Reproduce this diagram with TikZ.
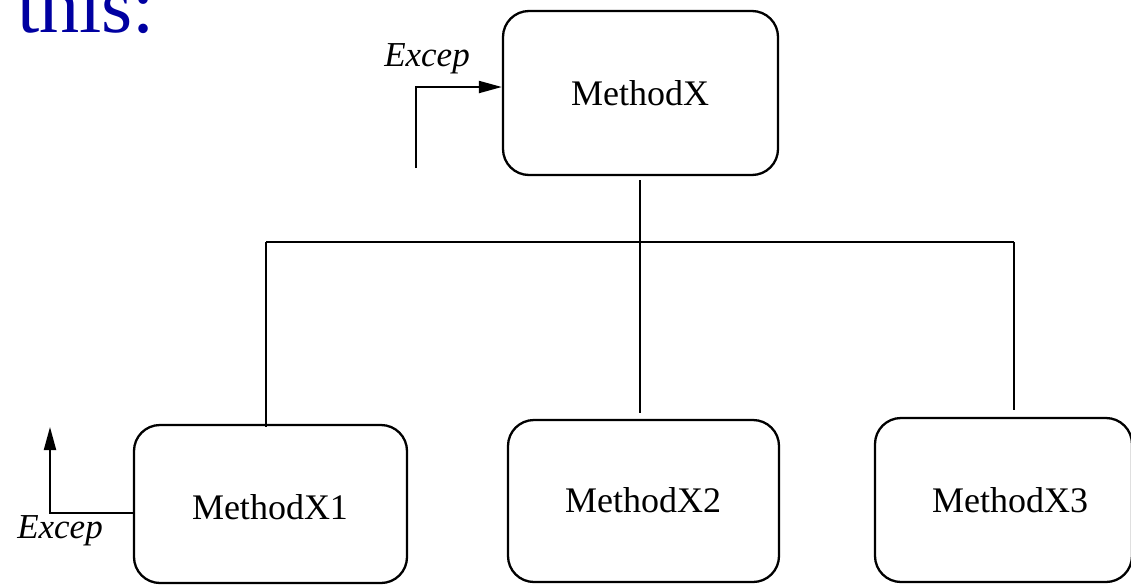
\documentclass[tikz,border=0pt]{standalone}
\usepackage{fontspec}
\setmainfont{Liberation Serif}
\usetikzlibrary{arrows.meta}
\definecolor{titleblue}{rgb}{0,0,0.63}
\tikzset{
  method/.style={draw, line width=2.3pt, rounded corners=26pt, inner sep=0pt},
  mlabel/.style={inner sep=0pt, font=\fontsize{36}{40}\selectfont},
  exlabel/.style={inner sep=0pt, font=\fontsize{35}{40}\selectfont\itshape},
  link/.style={line width=2pt},
  raise/.style={line width=2pt, -{Triangle[length=23pt,width=12pt]}}
}
\begin{document}
\begin{tikzpicture}[x=1pt,y=-1pt]
\useasboundingbox (0,0) rectangle (1131,584);

% heading, partly above the page edge
\node[anchor=base west, inner sep=0pt, text=titleblue,
      font=\fontsize{80}{90}\selectfont] (title) at (17,32) {this:};

% method boxes
\node[method, minimum width=275pt, minimum height=164pt] (mx) at (640.5,93) {};
\node[method, minimum width=273pt, minimum height=158pt] (m1) at (270.5,504) {};
\node[method, minimum width=271pt, minimum height=162pt] (m2) at (643.5,501) {};
\node[method, minimum width=257pt, minimum height=164pt] (m3) at (1003.5,500) {};

\node[mlabel] (tx)  at (640,93)  {MethodX};
\node[mlabel] (t1)  at (270,507) {MethodX1};
\node[mlabel] (t2)  at (643,500) {MethodX2};
\node[mlabel] (t3)  at (1010,500) {MethodX3};

% call tree
\coordinate (trunk) at (640,180);
\coordinate (hub)   at (640,242);
\coordinate (lft)   at (266,242);
\coordinate (rgt)   at (1014,242);
\coordinate (e1)    at (266,427);
\coordinate (e2)    at (640,413);
\coordinate (e3)    at (1014,410);
\draw[link] (trunk) -- (e2);
\draw[link] (lft) -- (rgt);
\draw[link] (lft) -- (e1);
\draw[link] (rgt) -- (e3);

% exception paths
\coordinate (xin)  at (416,168);
\draw[raise] (xin) |- ([yshift=6pt]mx.west);
\node[exlabel] (xa) at (427,59) {Excep};

\coordinate (xout) at (50,427);
\draw[raise] ([yshift=-9pt]m1.west) -| (xout);
\node[exlabel] (xb) at (60,531) {Excep};
\end{tikzpicture}
\end{document}
